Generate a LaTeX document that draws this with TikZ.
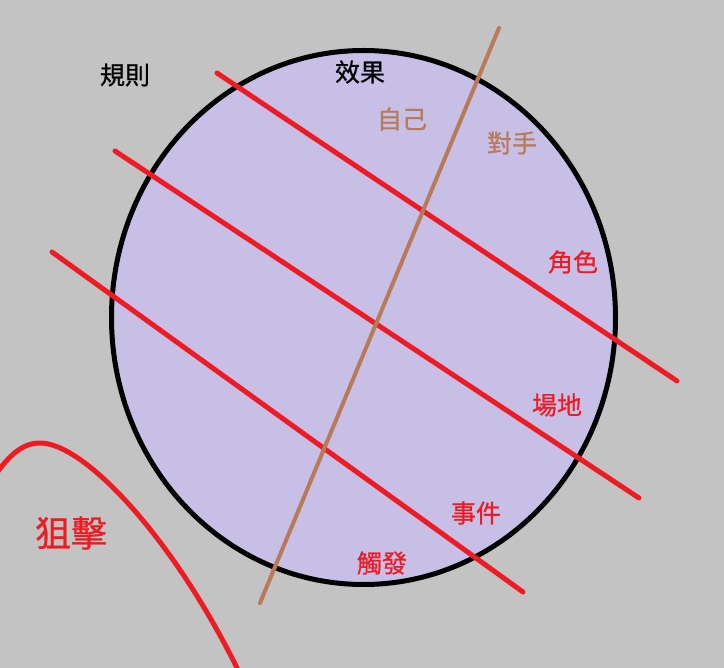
\documentclass[tikz,border=0pt]{standalone}
\usepackage{fontspec}
\newfontfamily\cjk[FakeBold=0.8]{Noto Sans CJK TC}
\definecolor{paintgrey}{HTML}{C3C3C3}
\definecolor{paintlav}{HTML}{C8BFE7}
\definecolor{paintred}{HTML}{ED1C24}
\definecolor{paintbrown}{HTML}{B97A57}
\begin{document}
\begin{tikzpicture}[x=1pt,y=-1pt,
    redline/.style={paintred,line width=5pt,line cap=round},
    brownline/.style={paintbrown,line width=4pt,line cap=round},
    lbl/.style={font=\cjk\fontsize{25}{25}\selectfont,inner sep=0pt}]
    \fill[paintgrey] (0,0) rectangle (724,668);
    \useasboundingbox (0,0) rectangle (724,668);
    
    \draw[fill=paintlav][line width=5pt] (363.5,317.5) ellipse [x radius=252pt, y radius=267pt];
    
    \draw[redline] (217,73) -- (677,381);
    \draw[redline] (115,151) -- (639,498);
    \draw[redline] (52,252) -- (523,592);
    \draw[brownline] (499,28) -- (260,603);
    
    \draw[redline] (-4,474) .. controls (9,456) and (22,443) .. (40,443) .. controls (85,443) and (175,540) .. (240,674);
    
    \node[lbl] (rules) at (125,75) {規則};
    \node[lbl] (effect) at (360,72) {效果};
    \node[lbl,paintbrown] (self) at (402,119) {自己};
    \node[lbl,paintbrown] (rival) at (512,143) {對手};
    \node[lbl,paintred] (unit) at (573,262) {角色};
    \node[lbl,paintred] (field) at (557,405) {場地};
    \node[lbl,paintred] (event) at (476,513) {事件};
    \node[lbl,paintred] (trigger) at (382,563) {觸發};
    \node[lbl,paintred,font=\cjk\fontsize{36}{36}\selectfont] (snipe) at (71,533) {狙擊};
\end{tikzpicture}
\end{document}
